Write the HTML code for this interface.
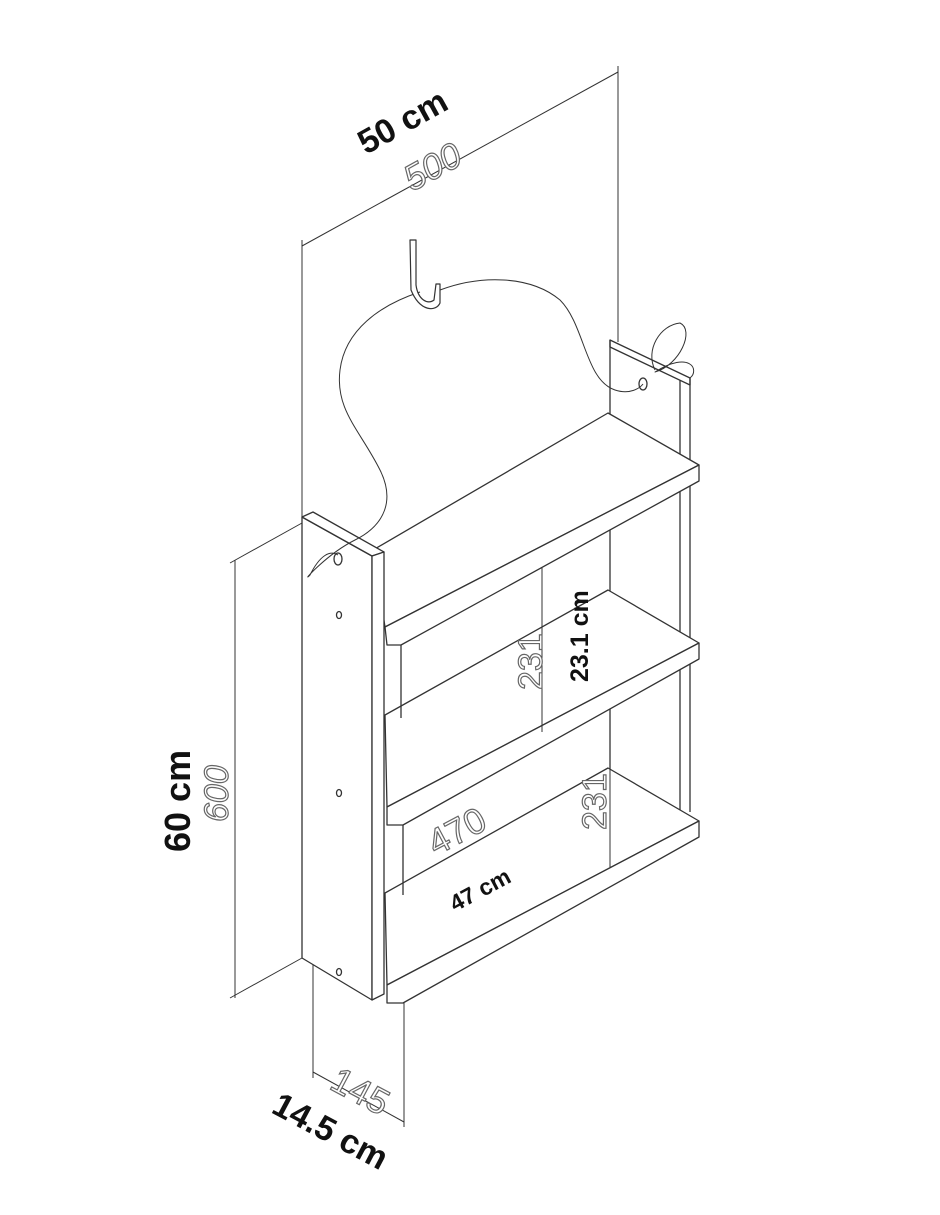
<!DOCTYPE html>
<html><head><meta charset="utf-8"><style>
html,body{margin:0;padding:0;background:#fff;}
svg{display:block}
.b{font-family:"Liberation Sans",sans-serif;font-weight:bold;fill:#111}
.o{font-family:"Liberation Sans",sans-serif;fill:#fff;stroke:#666;stroke-width:1.2}
</style></head><body>
<svg width="940" height="1215" viewBox="0 0 940 1215" xmlns="http://www.w3.org/2000/svg">
<g fill="none" stroke="#333" stroke-width="1.3" stroke-linejoin="round">
<line x1="302" y1="240" x2="302" y2="522" stroke-width="1"/>
<line x1="618" y1="66" x2="618" y2="342" stroke-width="1"/>
<line x1="302" y1="246" x2="618" y2="72" stroke-width="1"/>
<line x1="235" y1="560" x2="235" y2="998" stroke-width="1"/>
<line x1="230" y1="563" x2="302" y2="523" stroke-width="1"/>
<line x1="230" y1="998" x2="302" y2="958" stroke-width="1"/>
<line x1="313" y1="964" x2="313" y2="1078" stroke-width="1"/>
<line x1="404" y1="1003" x2="404" y2="1127" stroke-width="1"/>
<line x1="313" y1="1072" x2="404" y2="1122" stroke-width="1"/>
<polygon points="610,340 690,378 690,385 610,347" fill="#fff"/>
<line x1="610" y1="340" x2="610" y2="868"/>
<line x1="680" y1="380" x2="680" y2="815"/>
<line x1="690" y1="378" x2="690" y2="812"/>
<g fill="#fff">
<polygon points="373,550 608,413 699,465 385,627"/>
<polygon points="385,627 699,465 699,481 401,645 387,645"/>
<polygon points="385,715 608,590 699,643 387,807"/>
<polygon points="387,807 699,643 699,659 403,825 387,825"/>
<polygon points="385,893 608,768 699,821 387,985"/>
<polygon points="387,985 699,821 699,837 403,1003 387,1003"/>
</g>
<line x1="401" y1="645" x2="401" y2="718"/>
<line x1="403" y1="825" x2="403" y2="895"/>
<line x1="542" y1="568" x2="542" y2="732" stroke-width="1"/>
<line x1="610" y1="748" x2="610" y2="868" stroke-width="1"/>
<polygon points="302,517 372,556 372,1000 302,958" fill="#fff"/>
<polygon points="302,517 313,512 384,552 372,556" fill="#fff"/>
<polygon points="372,556 384,552 384,994 372,1000" fill="#fff"/>
<ellipse cx="338" cy="559" rx="4" ry="6"/>
<ellipse cx="339" cy="615" rx="2.5" ry="3.5"/>
<ellipse cx="339" cy="793" rx="2.5" ry="3.5"/>
<ellipse cx="339" cy="972" rx="2.5" ry="3.5"/>
<ellipse cx="643" cy="384" rx="4" ry="6"/>
<path d="M420,292 C380,305 345,330 340,370 C335,410 360,430 380,470 C395,500 385,525 355,540 C325,555 300,585 310,575 C320,555 330,550 338,555" stroke-width="1"/>
<path d="M440,290 C480,275 530,275 560,300 C585,325 585,380 615,390 C630,395 640,388 643,384" stroke-width="1"/>
<path d="M655,370 C645,350 660,325 680,323 C695,330 680,365 655,372 C690,350 700,370 690,378" stroke-width="1"/>
<path d="M410,240 L416,240 L416,285 C418,300 428,305 434,300 L436,284 L440,284 L440,303 C436,312 420,312 411,290 Z" fill="#fff" stroke-width="1.2"/>
</g>
<text class="b" font-size="34" transform="translate(366,155) rotate(-29)">50 cm</text>
<text class="o" font-size="36" font-style="italic" transform="translate(412,192) rotate(-29)">500</text>
<text class="b" font-size="36" transform="translate(190,852) rotate(-90)">60 cm</text>
<text class="o" font-size="34" font-style="italic" transform="translate(228,822) rotate(-90)">600</text>
<text class="b" font-size="25" transform="translate(588,682) rotate(-90)">23.1 cm</text>
<text class="o" font-size="34" transform="translate(542,690) rotate(-90)">231</text>
<text class="o" font-size="34" transform="translate(606,830) rotate(-90)">231</text>
<text class="o" font-size="36" transform="translate(436,856) rotate(-28)">470</text>
<text class="b" font-size="23" transform="translate(455,912) rotate(-28)">47 cm</text>
<text class="o" font-size="36" transform="translate(328,1088) rotate(28)">145</text>
<text class="b" font-size="34" transform="translate(270,1112) rotate(28)">14.5 cm</text>
</svg>
</body></html>
